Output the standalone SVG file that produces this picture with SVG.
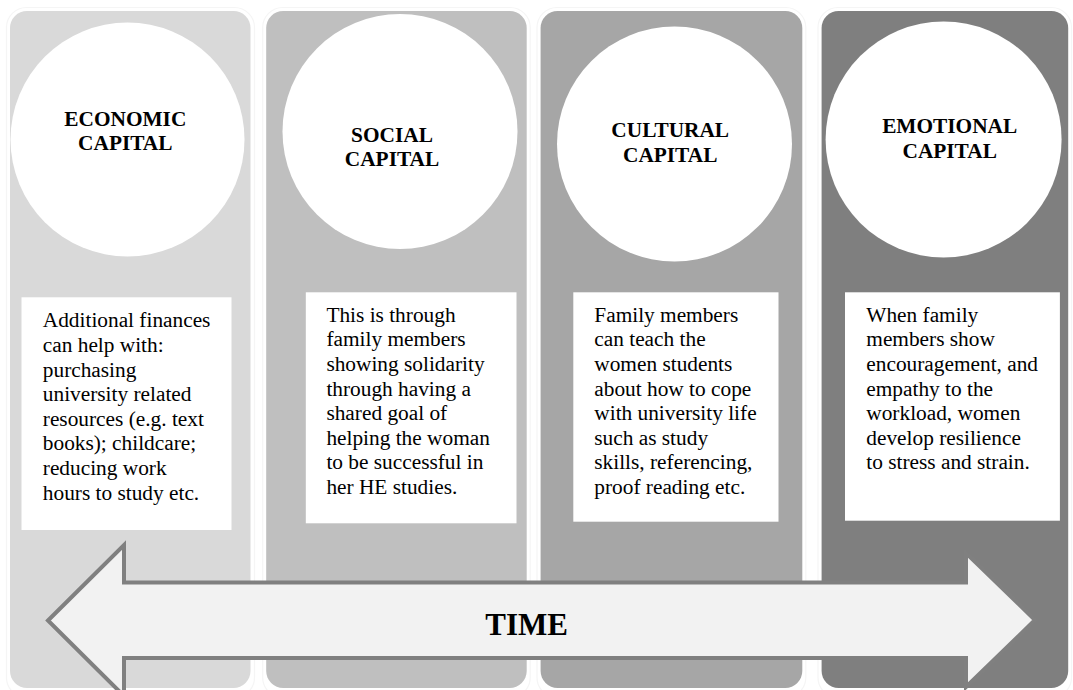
<svg xmlns="http://www.w3.org/2000/svg" width="1073" height="690" viewBox="0 0 1073 690">
<defs>
<style>
.halo{fill:none;stroke:#f5f5f5;stroke-width:1.2}
.circ{fill:#ffffff}
.box{fill:#ffffff}
.title{font-family:"Liberation Serif","Times New Roman",serif;font-weight:bold;font-size:21.33px;fill:#000;text-anchor:middle}
.body{font-family:"Liberation Serif","Times New Roman",serif;font-size:21.33px;fill:#000}
.arrow{fill:#f2f2f2;stroke:#808080;stroke-width:4;stroke-linejoin:miter}
.time{font-family:"Liberation Serif","Times New Roman",serif;font-weight:bold;font-size:31px;fill:#000;text-anchor:middle}
</style>
</defs>
<rect width="1073" height="690" fill="#ffffff"/>

<g id="economic">
<rect class="halo" x="6.5" y="7.5" width="248" height="690" rx="20"/>
<rect x="10" y="11" width="240.5" height="677" rx="17" fill="#d9d9d9"/>
<circle class="circ" cx="127.5" cy="139.5" r="117"/>
<text class="title"><tspan x="125.3" y="125.7">ECONOMIC</tspan><tspan x="125.3" y="150">CAPITAL</tspan></text>
<rect class="box" x="21.5" y="297.3" width="210" height="232.7"/>
<text class="body"><tspan x="42.8" y="327.3">Additional finances</tspan><tspan x="42.8" y="351.9">can help with:</tspan><tspan x="42.8" y="376.5">purchasing</tspan><tspan x="42.8" y="401.1">university related</tspan><tspan x="42.8" y="425.7">resources (e.g. text</tspan><tspan x="42.8" y="450.3">books); childcare;</tspan><tspan x="42.8" y="474.9">reducing work</tspan><tspan x="42.8" y="499.5">hours to study etc.</tspan></text>
</g>

<g id="social">
<rect class="halo" x="262.7" y="7.5" width="267.5" height="690" rx="20"/>
<rect x="266.2" y="11" width="260.5" height="677" rx="17" fill="#bfbfbf"/>
<circle class="circ" cx="400" cy="131.5" r="117.5"/>
<text class="title"><tspan x="392" y="141.7">SOCIAL</tspan><tspan x="392" y="165.7">CAPITAL</tspan></text>
<rect class="box" x="305.8" y="292.3" width="210.7" height="231"/>
<text class="body"><tspan x="326.4" y="321.7">This is through</tspan><tspan x="326.4" y="346.3">family members</tspan><tspan x="326.4" y="370.9">showing solidarity</tspan><tspan x="326.4" y="395.5">through having a</tspan><tspan x="326.4" y="420.1">shared goal of</tspan><tspan x="326.4" y="444.7">helping the woman</tspan><tspan x="326.4" y="469.3">to be successful in</tspan><tspan x="326.4" y="493.9">her HE studies.</tspan></text>
</g>

<g id="cultural">
<rect class="halo" x="537" y="7.5" width="268.8" height="690" rx="20"/>
<rect x="540.6" y="11" width="261.7" height="677" rx="17" fill="#a6a6a6"/>
<circle class="circ" cx="674.5" cy="144" r="117.5"/>
<text class="title"><tspan x="670.2" y="137.3">CULTURAL</tspan><tspan x="670.2" y="162.3">CAPITAL</tspan></text>
<rect class="box" x="573.3" y="292.3" width="205.2" height="229.4"/>
<text class="body"><tspan x="594.3" y="321.7">Family members</tspan><tspan x="594.3" y="346.3">can teach the</tspan><tspan x="594.3" y="370.9">women students</tspan><tspan x="594.3" y="395.5">about how to cope</tspan><tspan x="594.3" y="420.1">with university life</tspan><tspan x="594.3" y="444.7">such as study</tspan><tspan x="594.3" y="469.3">skills, referencing,</tspan><tspan x="594.3" y="493.9">proof reading etc.</tspan></text>
</g>

<g id="emotional">
<rect class="halo" x="818" y="7.5" width="253.5" height="690" rx="20"/>
<rect x="821.6" y="11" width="246.6" height="677" rx="17" fill="#7f7f7f"/>
<circle class="circ" cx="943.6" cy="139.5" r="118"/>
<text class="title"><tspan x="949.7" y="133.3">EMOTIONAL</tspan><tspan x="949.7" y="158.3">CAPITAL</tspan></text>
<rect class="box" x="845" y="292.3" width="214.9" height="228.4"/>
<text class="body"><tspan x="866.3" y="321.7">When family</tspan><tspan x="866.3" y="346.3">members show</tspan><tspan x="866.3" y="370.9">encouragement, and</tspan><tspan x="866.3" y="395.5">empathy to the</tspan><tspan x="866.3" y="420.1">workload, women</tspan><tspan x="866.3" y="444.7">develop resilience</tspan><tspan x="866.3" y="469.3">to stress and strain.</tspan></text>
</g>

<g id="connectors">
<path class="arrow" d="M48,620.5 L124,545 L124,582.5 L966,582.5 L966,553 L1035,620 L966,687 L966,658 L124,658 L124,696 Z"/>
</g>
<g id="time-label">
<text class="time" x="526.7" y="635">TIME</text>
</g>
</svg>
